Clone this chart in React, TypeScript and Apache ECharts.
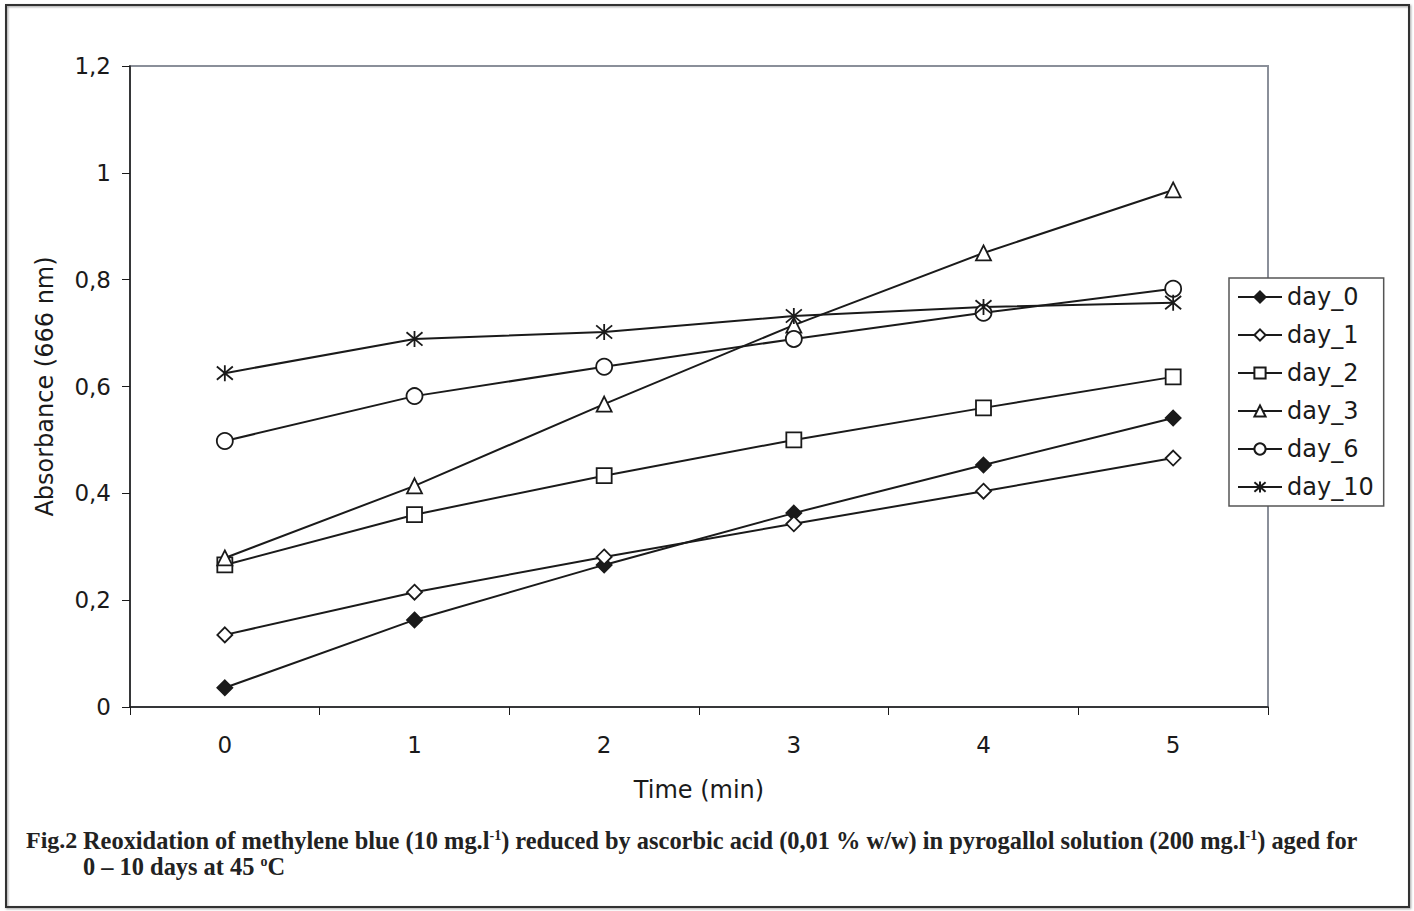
import React, { useEffect, useRef } from "react";
import * as echarts from "echarts";

const categories = ["0", "1", "2", "3", "4", "5"];
const day0 = [0.036, 0.163, 0.266, 0.363, 0.453, 0.541];
const day1 = [0.135, 0.215, 0.281, 0.343, 0.404, 0.466];
const day2 = [0.266, 0.36, 0.433, 0.5, 0.56, 0.618];
const day3 = [0.279, 0.414, 0.567, 0.715, 0.85, 0.968];
const day6 = [0.498, 0.582, 0.637, 0.689, 0.738, 0.783];
const day10 = [0.625, 0.689, 0.702, 0.732, 0.749, 0.757];
const seriesNames = ["day_0", "day_1", "day_2", "day_3", "day_6", "day_10"];

const ASTERISK = "path://M0 0 L10 10 M10 0 L0 10 M5 -1 L5 11";

export default function App() {
  const ref = useRef<HTMLDivElement>(null);
  useEffect(() => {
    if (!ref.current) return;
    const chart = echarts.init(ref.current, undefined, { renderer: "svg" });
    const ink = "#1a1a1a";
    const mk = (name: string, data: number[], symbol: string, fill: string, size: number) => ({
      name,
      type: "line",
      data,
      symbol,
      symbolSize: size,
      showSymbol: true,
      lineStyle: { color: ink, width: 2 },
      itemStyle: { color: fill, borderColor: ink, borderWidth: 1.8 },
      z: 3,
    });
    const axisFont = "'DejaVu Sans', 'Open Sans', sans-serif";
    const capFont = "'Liberation Serif', 'Times New Roman', serif";
    chart.setOption({
      animation: false,
      backgroundColor: "#ffffff",
      grid: {
        left: 130,
        right: 146,
        top: 66,
        bottom: 204,
        show: true,
        borderColor: "#8a8f99",
        borderWidth: 2,
        backgroundColor: "transparent",
      },
      xAxis: {
        type: "category",
        data: categories,
        boundaryGap: true,
        name: "Time (min)",
        nameLocation: "middle",
        nameGap: 71,
        nameTextStyle: { fontFamily: axisFont, fontSize: 24, color: ink },
        axisLine: { lineStyle: { color: ink, width: 1.5 } },
        axisTick: { show: true, length: 8, inside: false, alignWithLabel: false, lineStyle: { color: ink } },
        axisLabel: { fontFamily: axisFont, fontSize: 23, color: ink, margin: 26 },
        splitLine: { show: false },
      },
      yAxis: {
        type: "value",
        min: 0,
        max: 1.2,
        interval: 0.2,
        name: "Absorbance (666 nm)",
        nameLocation: "middle",
        nameGap: 73,
        nameTextStyle: { fontFamily: axisFont, fontSize: 24, color: ink },
        axisLine: { show: true, lineStyle: { color: ink, width: 1.5 } },
        axisTick: { show: true, length: 8, lineStyle: { color: ink } },
        axisLabel: {
          fontFamily: axisFont,
          fontSize: 23,
          color: ink,
          margin: 19,
          formatter: (v: number) => String(Math.round(v * 10) / 10).replace(".", ","),
        },
        splitLine: { show: false },
      },
      legend: {
        orient: "vertical",
        left: 1229,
        top: 278,
        data: seriesNames,
        itemWidth: 44,
        itemHeight: 14,
        itemGap: 14,
        padding: [7, 10, 7, 8],
        backgroundColor: "#ffffff",
        borderColor: "#555555",
        borderWidth: 1.5,
        textStyle: { fontFamily: axisFont, fontSize: 24, color: ink, lineHeight: 24 },
      },
      series: [
        mk("day_0", day0, "diamond", ink, 15),
        mk("day_1", day1, "diamond", "#ffffff", 15),
        mk("day_2", day2, "rect", "#ffffff", 15),
        mk("day_3", day3, "triangle", "#ffffff", 15),
        mk("day_6", day6, "circle", "#ffffff", 16),
        mk("day_10", day10, ASTERISK, "#ffffff", 16),
      ],
      graphic: [
        {
          type: "rect",
          shape: { x: 6, y: 5, width: 1403, height: 902 },
          style: {
            fill: "none",
            stroke: "#333333",
            lineWidth: 2,
            shadowBlur: 2,
            shadowOffsetX: 1,
            shadowOffsetY: 1,
            shadowColor: "rgba(0,0,0,0.4)",
          },
          silent: true,
        },
        {
          type: "text",
          left: 26,
          top: 827,
          style: {
            text: "Fig.2",
            font: `bold 24px ${capFont}`,
            fill: "#222222",
            lineHeight: 26,
          },
        },
        {
          type: "text",
          left: 83,
          top: 827,
          style: {
            text:
              "Reoxidation of methylene blue (10 mg.l{sup|-1}) reduced by ascorbic acid (0,01 % w/w) in pyrogallol solution (200 mg.l{sup|-1}) aged for\n0 – 10 days at 45 {sup|o}C",
            font: `bold 24.4px ${capFont}`,
            fill: "#222222",
            lineHeight: 26,
            rich: {
              sup: {
                font: `bold 14px ${capFont}`,
                fill: "#222222",
                padding: [0, 0, 10, 0],
              },
            },
          },
        },
      ],
    });
    return () => chart.dispose();
  }, []);
  return (
    <div
      ref={ref}
      style={{ position: "fixed", left: 0, top: 0, width: 1414, height: 911, background: "#fff" }}
    />
  );
}
